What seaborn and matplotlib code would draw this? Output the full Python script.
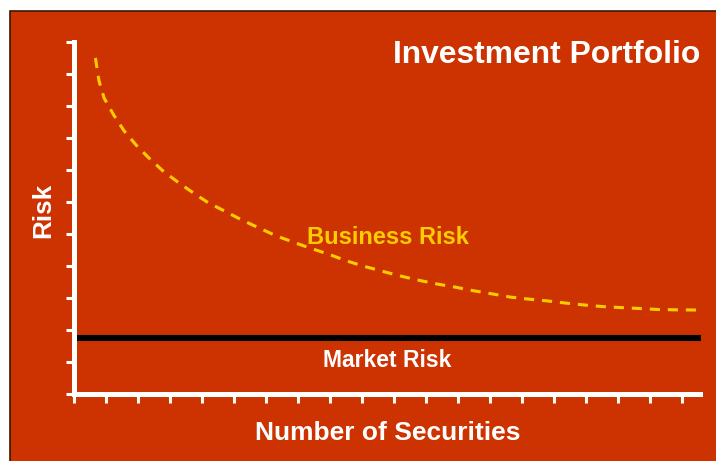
import matplotlib
matplotlib.use("Agg")
import matplotlib.pyplot as plt
import seaborn as sns
import pandas as pd
from matplotlib.patches import Rectangle

# ---- data ----
securities = [0.67, 0.78, 0.94, 1.24, 1.56, 1.94, 2.34, 2.77, 3.24, 3.72, 4.19,
              4.74, 5.24, 5.78, 6.30, 6.84, 7.375, 7.94, 8.52, 9.03, 9.62, 10.19,
              10.75, 11.33, 11.91, 12.47, 13.09, 13.625, 14.16, 14.78, 15.375,
              15.97, 16.53, 17.125, 17.69, 18.28, 18.84, 19.44]
business_risk = [10.50, 9.79, 9.25, 8.72, 8.23, 7.78, 7.375, 6.98, 6.625, 6.29, 5.98,
                 5.70, 5.44, 5.19, 4.95, 4.75, 4.56, 4.375, 4.16, 4.00, 3.84, 3.69,
                 3.56, 3.44, 3.34, 3.23, 3.125, 3.03, 2.97, 2.91, 2.84,
                 2.78, 2.73, 2.70, 2.67, 2.64, 2.63, 2.625]
market_x = [0.06, 19.6]
market_risk = [1.76, 1.76]
x_ticks = list(range(0, 20))
y_ticks = list(range(0, 12))

title = "Investment Portfolio"
xlabel = "Number of Securities"
ylabel = "Risk"
business_label = "Business Risk"
market_label = "Market Risk"

RED = "#CC3300"
YELLOW = "#FFCC00"

sns.set_style("ticks")
plt.rcParams["font.family"] = ["Liberation Sans", "DejaVu Sans"]

W, H = 716, 461
fig = plt.figure(figsize=(W / 100, H / 100), dpi=100)
fig.patch.set_facecolor("#FFFFFF")

def fx(px):
    return px / W

def fy(py):
    return (H - py) / H

# red slide background with dark border
bg = Rectangle((fx(10), -0.01), 1 - fx(10) + 0.01, fy(10.5) + 0.01, transform=fig.transFigure,
               facecolor=RED, edgecolor="#3A1800", linewidth=1.2, zorder=-10)
fig.add_artist(bg)

ax = fig.add_axes([fx(74), fy(394), fx(700) - fx(74), fy(42) - fy(394)])
ax.set_facecolor("none")
ax.set_zorder(1)

df_b = pd.DataFrame({"x": securities, "y": business_risk})
df_m = pd.DataFrame({"x": market_x, "y": market_risk})

sns.lineplot(data=df_b, x="x", y="y", ax=ax, color=YELLOW, linewidth=2.2,
             sort=False, estimator=None)
ax.lines[-1].set_dashes((3.3, 2.6))
sns.lineplot(data=df_m, x="x", y="y", ax=ax, color="black", linewidth=4.4,
             sort=False, estimator=None)
ax.lines[-1].set_clip_on(False)
ax.lines[-1].set_solid_capstyle("butt")

ax.set_xlim(0, 19.5625)
ax.set_ylim(0, 11)
ax.set_xticks(x_ticks)
ax.set_yticks(y_ticks)
ax.set_xticklabels([])
ax.set_yticklabels([])
ax.set_xlabel("")
ax.set_ylabel("")

for s in ["top", "right"]:
    ax.spines[s].set_visible(False)
for s in ["left", "bottom"]:
    ax.spines[s].set_color("white")
    ax.spines[s].set_linewidth(3.6)
    ax.spines[s].set_capstyle("projecting")
ax.tick_params(axis="y", direction="out", length=6, width=2.2, color="white")
ax.tick_params(axis="x", direction="out", length=6.5, width=2.2, color="white")

# texts
fig.text(fx(700), fy(62.7), title, ha="right", va="baseline", color="white",
         fontsize=22.9, fontweight="bold")
fig.text(fx(307), fy(244), business_label, ha="left", va="baseline", color=YELLOW,
         fontsize=17, fontweight="bold")
fig.text(fx(387), fy(366.7), market_label, ha="center", va="baseline", color="white",
         fontsize=16.5, fontweight="bold")
fig.text(fx(388), fy(440), xlabel, ha="center", va="baseline", color="white",
         fontsize=19, fontweight="bold")
fig.text(fx(50.7), fy(210), ylabel, ha="center", va="baseline", rotation=90,
         rotation_mode="anchor", color="white", fontsize=18.7, fontweight="bold")

fig.savefig("out.png", dpi=100, facecolor=fig.get_facecolor())
